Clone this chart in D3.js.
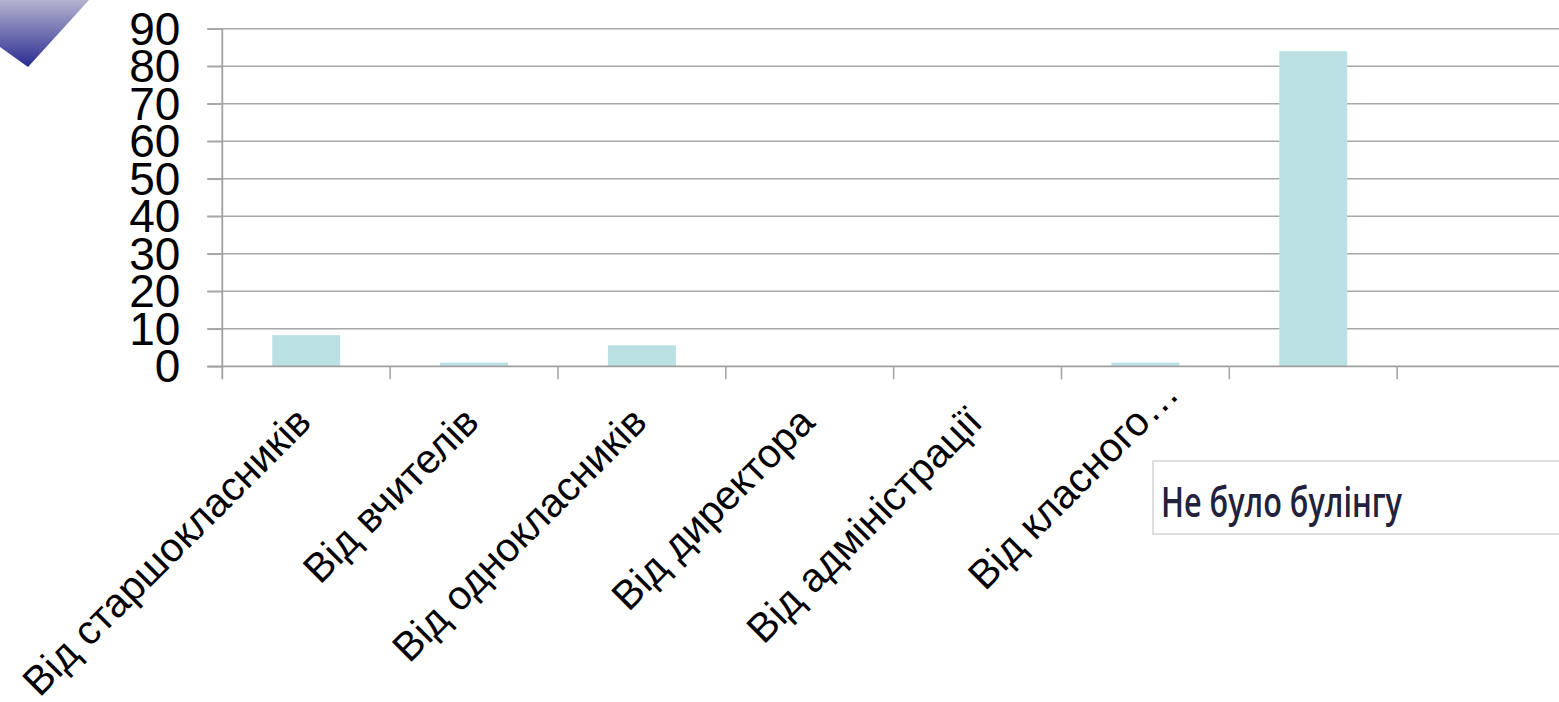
<!DOCTYPE html>
<html>
<head>
<meta charset="utf-8">
<script src="https://cdn.jsdelivr.net/npm/d3@7"></script>
<style>
  html, body { margin: 0; padding: 0; background: #fff; overflow: hidden; }
  svg { display: block; }
</style>
</head>
<body>
<div id="graph"></div>
<script>
// chart data
const categories = ["c1", "c2", "c3", "c4", "c5", "c6", "c7", "c8"];
const labels = ["Від старшокласників", "Від вчителів", "Від однокласників",
  "Від директора", "Від адміністрації", "Від класного…", "", ""];
const values = [8.3, 1, 5.6, 0, 0, 1, 84, 0];
const yTicks = [0, 10, 20, 30, 40, 50, 60, 70, 80, 90];
const tooltipText = "Не було булінгу";

const width = 1559;
const height = 702;
const plotLeft = 222.3;
const plotRight = 1565;
const plotTop = 28.7;
const plotBottom = 366.3;

const svg = d3.select("#graph").append("svg")
  .attr("width", width)
  .attr("height", height);

// corner decoration
const defs = svg.append("defs");
const grad = defs.append("linearGradient")
  .attr("id", "cornerGrad")
  .attr("x1", 0).attr("y1", 0).attr("x2", 0).attr("y2", 1);
grad.append("stop").attr("offset", "0%").attr("stop-color", "#b4b4cf");
grad.append("stop").attr("offset", "100%").attr("stop-color", "#2b2b92");
svg.append("polygon")
  .attr("points", "0,0 89,0 28,67 0,47")
  .attr("fill", "url(#cornerGrad)");

// scales
const xSlot = d3.scaleBand()
  .domain(categories)
  .range([plotLeft, plotRight]);

const xBar = d3.scaleBand()
  .domain(categories)
  .range([plotLeft, plotRight])
  .paddingInner(0.595)
  .paddingOuter(0.2975);

const yScale = d3.scaleLinear()
  .domain([0, 90])
  .range([plotBottom, plotTop]);

// gridlines
svg.append("g")
  .selectAll("line")
  .data(yTicks.filter(d => d > 0))
  .enter().append("line")
  .attr("x1", plotLeft - 15)
  .attr("x2", plotRight)
  .attr("y1", d => yScale(d))
  .attr("y2", d => yScale(d))
  .attr("stroke", "#a8a8a8")
  .attr("stroke-width", 1.6);

// bars
svg.append("g")
  .selectAll("rect")
  .data(values)
  .enter().append("rect")
  .attr("x", (d, i) => xBar(categories[i]))
  .attr("y", d => yScale(d))
  .attr("width", xBar.bandwidth())
  .attr("height", d => plotBottom - yScale(d))
  .attr("fill", "#bbe0e3");

// y axis
const yAxis = svg.append("g")
  .attr("transform", "translate(" + plotLeft + ",0)")
  .call(d3.axisLeft(yScale).tickValues(yTicks).tickSize(15).tickPadding(27));
yAxis.select(".domain").attr("stroke", "#a0a0a0").attr("stroke-width", 1.8)
  .attr("d", "M0," + plotTop + "V" + (plotBottom + 13));
yAxis.selectAll(".tick line").attr("stroke", "#a8a8a8").attr("stroke-width", 1.6);
yAxis.selectAll(".tick text")
  .attr("fill", "#000")
  .style("font-family", "'Liberation Sans', Arial, sans-serif")
  .style("font-size", "46px")
  .attr("dy", "0.34em");

// x axis line and ticks at slot boundaries
svg.append("line")
  .attr("x1", plotLeft - 15).attr("x2", plotRight)
  .attr("y1", plotBottom).attr("y2", plotBottom)
  .attr("stroke", "#a0a0a0").attr("stroke-width", 1.8);

svg.append("g")
  .selectAll("line")
  .data(categories)
  .enter().append("line")
  .attr("x1", d => xSlot(d) + xSlot.bandwidth())
  .attr("x2", d => xSlot(d) + xSlot.bandwidth())
  .attr("y1", plotBottom)
  .attr("y2", plotBottom + 13)
  .attr("stroke", "#a8a8a8")
  .attr("stroke-width", 1.6);

// category labels (a trailing ellipsis hangs past the anchor, as in the original)
const labelPos = i => "translate(" + (xSlot(categories[i]) + xSlot.bandwidth() / 2 + 7) + "," + (plotBottom + 58) + ") rotate(-45)";
const labelG = svg.append("g")
  .style("font-family", "'Liberation Sans', Arial, sans-serif")
  .style("font-size", "40.5px")
  .attr("fill", "#000");

labelG.selectAll("text.lab")
  .data(labels)
  .enter().append("text")
  .attr("class", "lab")
  .attr("transform", (d, i) => labelPos(i))
  .attr("text-anchor", "end")
  .text(d => d.replace("…", ""));

labelG.selectAll("text.ell")
  .data(labels.map((d, i) => ({ d, i })).filter(o => o.d.endsWith("…")))
  .enter().append("text")
  .attr("class", "ell")
  .attr("transform", o => labelPos(o.i))
  .attr("text-anchor", "start")
  .attr("textLength", 56)
  .attr("lengthAdjust", "spacing")
  .text("…");

// tooltip box
svg.append("rect")
  .attr("x", 1153)
  .attr("y", 461)
  .attr("width", 420)
  .attr("height", 73)
  .attr("fill", "#fff")
  .attr("stroke", "#d4d4d4")
  .attr("stroke-width", 1.5);
svg.append("text")
  .attr("x", 1161)
  .attr("y", 517)
  .attr("textLength", 241)
  .attr("lengthAdjust", "spacingAndGlyphs")
  .style("font-family", "'Open Sans', 'Noto Sans', sans-serif")
  .style("font-size", "42px")
  .style("font-weight", 600)
  .attr("fill", "#22223a")
  .text(tooltipText);
</script>
</body>
</html>
